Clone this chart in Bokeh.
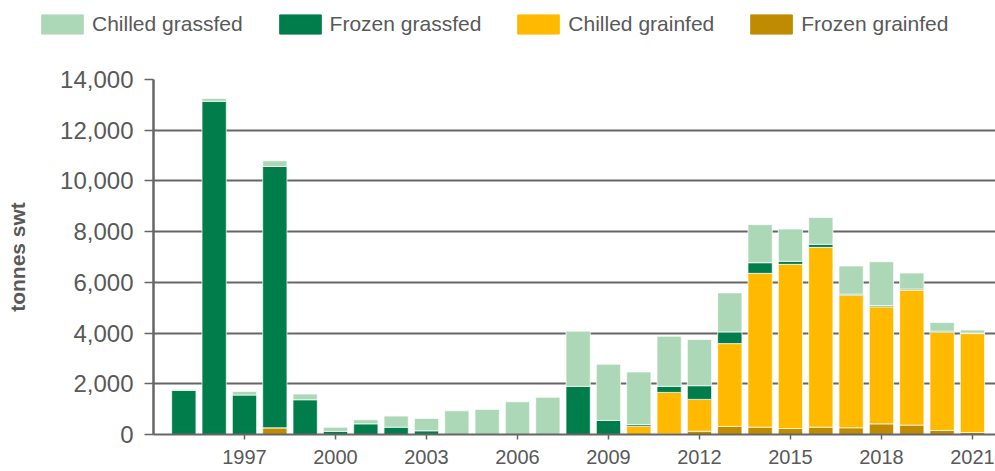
from bokeh.plotting import figure
from bokeh.layouts import column
from bokeh.models import Legend, LegendItem, FixedTicker, NumeralTickFormatter, Range1d
from bokeh.embed import file_html
from bokeh.resources import INLINE

years = list(range(1995, 2022))
frozen_grainfed = [0, 0, 0, 265, 0, 0, 0, 0, 0, 0, 0, 0, 0, 0, 0, 0,
                   20, 130, 320, 290, 235, 290, 265, 420, 370, 160, 80]
chilled_grainfed = [0, 0, 0, 0, 0, 0, 0, 0, 0, 0, 0, 0, 0, 0, 0, 330,
                    1640, 1255, 3265, 6065, 6475, 7090, 5230, 4615, 5325, 3875, 3900]
frozen_grassfed = [1740, 13140, 1555, 10305, 1370, 125, 420, 290, 145, 0, 0, 0, 0, 1900, 555, 65,
                   240, 540, 460, 420, 120, 120, 40, 50, 40, 40, 20]
chilled_grassfed = [40, 110, 145, 225, 224, 160, 160, 435, 485, 935, 990, 1290, 1465, 2175, 2215, 2070,
                    1975, 1820, 1540, 1500, 1275, 1055, 1110, 1730, 630, 340, 120]

tick_years = [1997, 2000, 2003, 2006, 2009, 2012, 2015, 2018, 2021]
tick_labels = [str(y) for y in tick_years]
y_ticks = [0, 2000, 4000, 6000, 8000, 10000, 12000, 14000]

series = ["frozen_grainfed", "chilled_grainfed", "frozen_grassfed", "chilled_grassfed"]
labels = {"frozen_grainfed": "Frozen grainfed", "chilled_grainfed": "Chilled grainfed",
          "frozen_grassfed": "Frozen grassfed", "chilled_grassfed": "Chilled grassfed"}
colors = {"frozen_grainfed": "#BF8B00", "chilled_grainfed": "#FFBA00",
          "frozen_grassfed": "#007D4B", "chilled_grassfed": "#ADD8B7"}

data = dict(years=years, frozen_grainfed=frozen_grainfed, chilled_grainfed=chilled_grainfed,
            frozen_grassfed=frozen_grassfed, chilled_grassfed=chilled_grassfed)

# ---- legend strip ----
lg = figure(width=995, height=40, output_backend="svg", toolbar_location=None,
            x_range=Range1d(0, 1), y_range=Range1d(0, 1),
            min_border_left=0, min_border_right=0, min_border_top=0, min_border_bottom=0)
lg.frame_align = False
lg.outline_line_color = None
lg.axis.visible = False
lg.grid.visible = False
order = ["chilled_grassfed", "frozen_grassfed", "chilled_grainfed", "frozen_grainfed"]
items = []
for s in order:
    # off-screen placeholder bars, only used for the legend swatch
    r = lg.vbar(x=[5], top=[1], width=0.5, color=colors[s])
    items.append(LegendItem(label=labels[s], renderers=[r]))
legend = Legend(items=items, orientation="horizontal", location=(36, 4),
                glyph_width=52, glyph_height=24, label_standoff=4, spacing=31,
                label_text_font="Liberation Sans", label_text_font_size="21px",
                label_text_color="#595959", label_height=20,
                padding=0, margin=0, border_line_color=None, background_fill_alpha=0)
lg.add_layout(legend, "center")

# ---- main chart ----
p = figure(width=995, height=431, output_backend="svg", toolbar_location=None,
           x_range=Range1d(1994.0, 2021.76), y_range=Range1d(0, 14000),
           min_border_left=153, min_border_right=0, min_border_top=39, min_border_bottom=37)
p.frame_align = False
p.outline_line_color = None
p.background_fill_color = "white"

p.vbar_stack(series, x="years", width=0.8, source=data,
             color=[colors[s] for s in series], line_color="white", line_width=1,
             line_alpha=0.7)

p.xgrid.grid_line_color = None
p.ygrid.grid_line_color = "#666666"
p.ygrid.grid_line_width = 2
p.ygrid.ticker = FixedTicker(ticks=y_ticks)

p.yaxis.ticker = FixedTicker(ticks=y_ticks)
p.yaxis.formatter = NumeralTickFormatter(format="0,0")
p.yaxis.major_label_text_font = "Liberation Sans"
p.yaxis.major_label_text_font_size = "24px"
p.yaxis.major_label_text_color = "#595959"
p.yaxis.axis_line_color = "#666666"
p.yaxis.axis_line_width = 2.5
p.yaxis.major_tick_line_color = "#666666"
p.yaxis.major_tick_line_width = 1.5
p.yaxis.major_tick_out = 9
p.yaxis.major_tick_in = 0
p.yaxis.minor_tick_line_color = None
p.yaxis.major_label_standoff = 11
p.yaxis.axis_label = "tonnes swt"
p.yaxis.axis_label_text_font = "Liberation Sans"
p.yaxis.axis_label_text_font_style = "bold"
p.yaxis.axis_label_text_font_size = "21px"
p.yaxis.axis_label_text_color = "#595959"
p.yaxis.axis_label_standoff = 28

p.xaxis.ticker = FixedTicker(ticks=tick_years)
p.xaxis.major_label_overrides = {y: l for y, l in zip(tick_years, tick_labels)}
p.xaxis.major_label_text_font = "Liberation Sans"
p.xaxis.major_label_text_font_size = "20px"
p.xaxis.major_label_text_color = "#595959"
p.xaxis.axis_line_color = "#666666"
p.xaxis.axis_line_width = 2
p.xaxis.major_tick_line_color = "#666666"
p.xaxis.major_tick_line_width = 1.5
p.xaxis.major_tick_out = 5
p.xaxis.major_tick_in = 0
p.xaxis.minor_tick_line_color = None
p.xaxis.major_label_standoff = 10

layout = column(lg, p, spacing=0)
open("out.html", "w").write(file_html(layout, INLINE))
